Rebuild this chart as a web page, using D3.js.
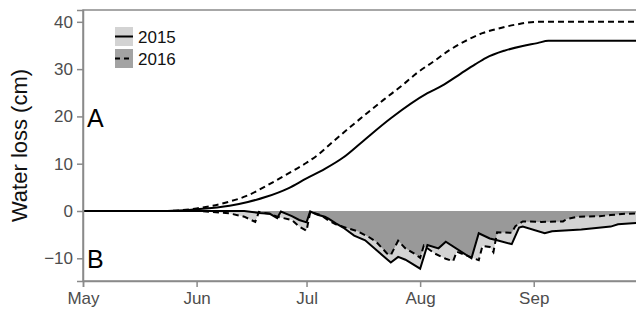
<!DOCTYPE html>
<html>
<head>
<meta charset="utf-8">
<script src="https://cdnjs.cloudflare.com/ajax/libs/d3/7.8.5/d3.min.js"></script>
<style>
  body { margin: 0; background: #fff; }
  svg { display: block; font-family: "Liberation Sans", Arial, sans-serif; }
</style>
</head>
<body>
<svg id="chart"></svg>
<script>
// Panel A - cumulative water loss (cm)
const cumDates2015 = ["May 01","May 24","Jun 01","Jun 10","Jun 15","Jun 20","Jun 26","Jul 01","Jul 06","Jul 11","Jul 16","Jul 24","Aug 03","Aug 07","Aug 12","Aug 16","Aug 19","Aug 24","Aug 29","Sep 02","Sep 05","Sep 30"];
const cumLoss2015  = [0, 0, 0.35, 1.1, 1.9, 3.0, 4.8, 6.9, 8.9, 11.3, 14.5, 19.6, 24.9, 26.5, 29.0, 31.0, 32.4, 33.9, 34.9, 35.5, 36, 36];
const cumDates2016 = ["May 01","May 23","Jun 01","Jun 10","Jun 15","Jun 20","Jun 25","Jul 01","Jul 04","Jul 08","Jul 13","Jul 18","Jul 22","Jul 27","Jul 31","Aug 05","Aug 09","Aug 14","Aug 18","Aug 23","Aug 27","Sep 02","Sep 30"];
const cumLoss2016  = [0, 0, 0.55, 2.0, 3.3, 5.3, 7.5, 10.2, 11.8, 14.5, 17.8, 21, 23.5, 26.5, 29.1, 31.8, 34, 36.2, 37.6, 38.7, 39.4, 40, 40];

// Panel B - deficit (cm)
const defDates2015 = ["May 01","Jun 14","Jun 18","Jun 21","Jun 23","Jun 24","Jun 27","Jun 29","Jul 01","Jul 02","Jul 04","Jul 06","Jul 07","Jul 09","Jul 11","Jul 14","Jul 17","Jul 21","Jul 24","Jul 26","Jul 28","Aug 01","Aug 03","Aug 06","Aug 08","Aug 15","Aug 17","Aug 20","Aug 22","Aug 26","Aug 28","Aug 29","Sep 04","Sep 06","Sep 14","Sep 22","Sep 24","Sep 30"];
const deficit2015  = [0, 0, -0.4, -0.6, -1.5, -0.1, -1.1, -1.9, -2.4, -0.1, -0.8, -1.2, -1.6, -2.6, -3.5, -5.2, -6.2, -8.9, -10.9, -9.7, -10.3, -12.2, -7.2, -7.9, -6.5, -10.0, -4.7, -5.8, -6.2, -7.0, -3.5, -3.3, -4.7, -4.3, -3.9, -3.3, -2.8, -2.5];
const defDates2016 = ["May 01","Jun 02","Jun 05","Jun 10","Jun 14","Jun 17","Jun 18","Jun 21","Jun 23","Jun 27","Jun 29","Jul 01","Jul 02","Jul 05","Jul 07","Jul 09","Jul 12","Jul 15","Jul 18","Jul 20","Jul 23","Jul 24","Jul 26","Jul 28","Jul 31","Aug 01","Aug 02","Aug 05","Aug 08","Aug 10","Aug 11","Aug 14","Aug 17","Aug 18","Aug 20","Aug 21","Aug 22","Aug 26","Aug 27","Aug 29","Sep 03","Sep 09","Sep 10","Sep 13","Sep 19","Sep 22","Sep 26","Sep 30"];
const deficit2016  = [0, 0, -0.2, -0.5, -1.2, -2.3, -0.2, -0.6, -1.2, -1.9, -3.3, -4.2, -0.2, -0.9, -2.0, -2.8, -3.6, -4.3, -5.5, -6.5, -9.0, -9.3, -6.3, -7.9, -9.3, -9.9, -7.3, -9.0, -10.1, -10.6, -8.6, -9.5, -10.4, -7.4, -7.6, -8.7, -4.5, -4.6, -3.2, -2.2, -2.3, -2.2, -1.7, -1.2, -1.1, -0.85, -0.6, -0.5];

// axis ticks and labels
const yTicks = [-10, 0, 10, 20, 30, 40];
const xTickDates = ["May 01","Jun 01","Jul 01","Aug 01","Sep 01"];
const xTickLabels = ["May","Jun","Jul","Aug","Sep"];
const years = ["2015","2016"];
const panelLabels = ["A","B"];

const width = 636;
const height = 311;
const margin = { top: 10, right: -4, bottom: 30, left: 83 };

const parseDate = d3.timeParse("%b %d");

const svg = d3.select("#chart")
    .attr("width", width)
    .attr("height", height);

const xScale = d3.scaleTime()
    .domain([parseDate("May 01"), parseDate("Sep 30")])
    .range([margin.left, width - margin.right]);

const yScale = d3.scaleLinear()
    .domain([-14.8, 42.5])
    .range([height - margin.bottom, margin.top]);

const toPoints = (dates, vals) => dates.map((d, i) => ({ date: parseDate(d), v: vals[i] }));
const cum15 = toPoints(cumDates2015, cumLoss2015);
const cum16 = toPoints(cumDates2016, cumLoss2016);
const def15 = toPoints(defDates2015, deficit2015);
const def16 = toPoints(defDates2016, deficit2016);

const line = d3.line().x(d => xScale(d.date)).y(d => yScale(d.v));
const smoothLine = d3.line().curve(d3.curveMonotoneX).x(d => xScale(d.date)).y(d => yScale(d.v));
const area = d3.area().x(d => xScale(d.date)).y0(yScale(0)).y1(d => yScale(d.v));

// deficit fills: each year light, overlap dark
svg.append("clipPath").attr("id", "clip15")
  .append("path").attr("d", area(def15));

svg.append("path").attr("d", area(def15)).attr("fill", "#d3d3d3");
svg.append("path").attr("d", area(def16)).attr("fill", "#d3d3d3");
svg.append("path").attr("d", area(def16)).attr("fill", "#999999").attr("clip-path", "url(#clip15)");

// lines
const series = [
  { data: def15, dash: null, gen: line },
  { data: def16, dash: "6,4", gen: line },
  { data: cum15, dash: null, gen: smoothLine },
  { data: cum16, dash: "6,4", gen: smoothLine }
];
series.forEach(s => {
  svg.append("path")
    .attr("d", s.gen(s.data))
    .attr("fill", "none")
    .attr("stroke", "#000")
    .attr("stroke-width", 2)
    .attr("stroke-dasharray", s.dash);
});

// panel border
svg.append("rect")
    .attr("x", margin.left)
    .attr("y", margin.top)
    .attr("width", width - margin.right - margin.left)
    .attr("height", height - margin.bottom - margin.top)
    .attr("fill", "none")
    .attr("stroke", "#8a8a8a")
    .attr("stroke-width", 1.5);

// axes
const yAxis = d3.axisLeft(yScale).tickValues(yTicks).tickSize(6).tickPadding(4);
const xAxis = d3.axisBottom(xScale)
    .tickValues(xTickDates.map(parseDate))
    .tickFormat((d, i) => xTickLabels[i])
    .tickSize(6).tickPadding(5);

const gy = svg.append("g").attr("transform", `translate(${margin.left},0)`).call(yAxis);
const gx = svg.append("g").attr("transform", `translate(0,${height - margin.bottom})`).call(xAxis);

[gx, gy].forEach(g => {
  g.select(".domain").attr("stroke", "#8a8a8a").attr("stroke-width", 1.5);
  g.selectAll(".tick line").attr("stroke", "#8a8a8a").attr("stroke-width", 1.5);
  g.selectAll(".tick text")
    .attr("fill", "#4d4d4d")
    .style("font-size", "17px")
    .style("font-family", "Liberation Sans, Arial, sans-serif");
});

// y axis title
svg.append("text")
    .attr("transform", `translate(27,${(margin.top + height - margin.bottom) / 2}) rotate(-90)`)
    .attr("text-anchor", "middle")
    .style("font-size", "22px")
    .attr("fill", "#111")
    .text("Water loss (cm)");

// panel letters
svg.selectAll(".panel-label")
    .data(panelLabels)
    .enter().append("text")
    .attr("class", "panel-label")
    .attr("x", 87)
    .attr("y", (d, i) => i === 0 ? yScale(17.7) : yScale(-12.1))
    .style("font-size", "25px")
    .attr("fill", "#000")
    .text(d => d);

// legend
const legendFills = ["#d3d3d3", "#a3a3a3"];
const legendDash = [null, "5,4"];
const legend = svg.append("g").attr("transform", "translate(115,27)");
years.forEach((yr, i) => {
  const row = legend.append("g").attr("transform", `translate(0,${i * 22})`);
  row.append("rect").attr("width", 18).attr("height", 19).attr("fill", legendFills[i]);
  row.append("line")
    .attr("x1", 0).attr("x2", 18).attr("y1", 9.5).attr("y2", 9.5)
    .attr("stroke", "#000").attr("stroke-width", 2)
    .attr("stroke-dasharray", legendDash[i]);
  row.append("text")
    .attr("x", 23).attr("y", 16)
    .style("font-size", "17px")
    .attr("fill", "#111")
    .text(yr);
});
</script>
</body>
</html>
